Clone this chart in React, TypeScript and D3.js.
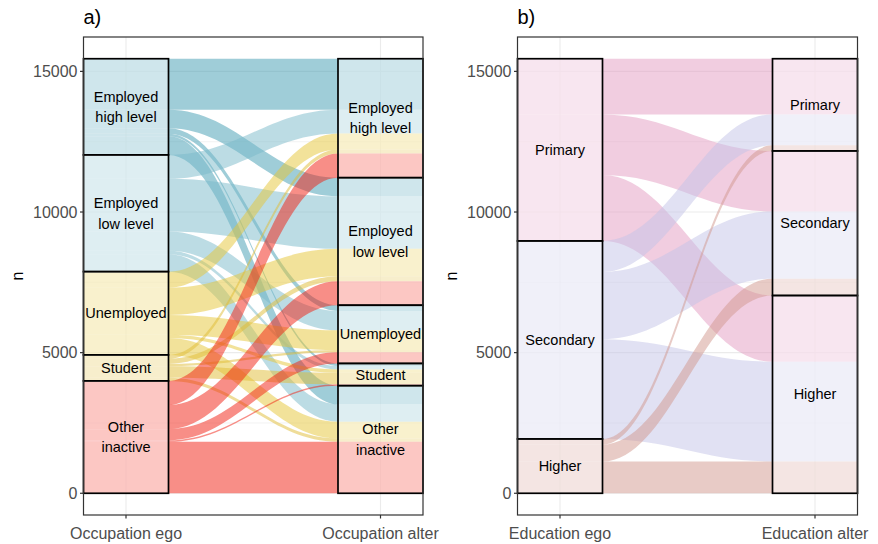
import React from "react";
import * as d3 from "d3";

// Occupation: ego (rows) -> alter (columns)
const occupationCategories = ["Employed high level", "Employed low level", "Unemployed", "Student", "Other inactive"];
const occupationLabels = [["Employed", "high level"], ["Employed", "low level"], ["Unemployed"], ["Student"], ["Other", "inactive"]];
const occupationFlows: number[][] = [
  [1810, 660, 200, 90, 660],
  [850, 1870, 690, 120, 620],
  [570, 970, 700, 120, 600],
  [140, 180, 80, 410, 115],
  [860, 855, 400, 50, 1830],
];
const occupationColors = ["#3f9bb1", "#79b9c9", "#e6c636", "#dfbb34", "#f11d0f"];

// Education: ego (rows) -> alter (columns)
const educationCategories = ["Primary", "Secondary", "Higher"];
const educationLabels = [["Primary"], ["Secondary"], ["Higher"]];
const educationFlows: number[][] = [
  [1980, 2150, 2350],
  [1100, 2390, 3550],
  [200, 600, 1130],
];
const educationColors = ["#e39bc1", "#c3c3e8", "#d1978d"];

const yTicks = [0, 5000, 10000, 15000];
const yMinor = [2500, 7500, 12500];

const FONT = "'Liberation Sans', Arial, Helvetica, sans-serif";
const TOP = 37;
const BOTTOM = 515;
const STRATUM_W = 85;
const CURVE_K = 0.4;

type PanelProps = {
  left: number;
  right: number;
  title: string;
  xLabels: [string, string];
  categories: string[];
  labels: string[][];
  flows: number[][];
  colors: string[];
};

function Panel({ left, right, title, xLabels, categories, labels, flows, colors }: PanelProps) {
  const n = categories.length;
  const rowTotals = flows.map((r) => d3.sum(r));
  const colTotals = categories.map((_, j) => d3.sum(flows, (r) => r[j]));
  const total = d3.sum(rowTotals);

  const y = d3.scaleLinear().domain([-0.05 * total, 1.05 * total]).range([BOTTOM, TOP]);
  const x = d3
    .scalePoint<string>()
    .domain(xLabels)
    .range([left + STRATUM_W / 2, right - STRATUM_W / 2]);

  const egoX = x(xLabels[0])!;
  const altX = x(xLabels[1])!;
  const egoL = egoX - STRATUM_W / 2;
  const egoR = egoX + STRATUM_W / 2;
  const altL = altX - STRATUM_W / 2;
  const altR = altX + STRATUM_W / 2;
  const dx = altL - egoR;

  // stratum tops (first category on top)
  const egoTop: number[] = [];
  const altTop: number[] = [];
  let acc = total;
  rowTotals.forEach((t) => { egoTop.push(acc); acc -= t; });
  acc = total;
  colTotals.forEach((t) => { altTop.push(acc); acc -= t; });

  // lode positions
  const egoLode: number[][] = flows.map((r, i) => {
    let a = egoTop[i];
    return r.map((v) => { const s = a; a -= v; return s; });
  });
  const altLode: number[][] = categories.map(() => []);
  for (let j = 0; j < n; j++) {
    let a = altTop[j];
    for (let i = 0; i < n; i++) { altLode[i][j] = a; a -= flows[i][j]; }
  }

  const alluvia: { d: string; color: string }[] = [];
  for (let i = 0; i < n; i++) {
    for (let j = 0; j < n; j++) {
      const v = flows[i][j];
      if (v <= 0) continue;
      const e0 = y(egoLode[i][j]);
      const e1 = y(egoLode[i][j] - v);
      const a0 = y(altLode[i][j]);
      const a1 = y(altLode[i][j] - v);
      const p = d3.path();
      p.moveTo(egoL, e0);
      p.lineTo(egoR, e0);
      p.bezierCurveTo(egoR + CURVE_K * dx, e0, altL - CURVE_K * dx, a0, altL, a0);
      p.lineTo(altR, a0);
      p.lineTo(altR, a1);
      p.lineTo(altL, a1);
      p.bezierCurveTo(altL - CURVE_K * dx, a1, egoR + CURVE_K * dx, e1, egoR, e1);
      p.lineTo(egoL, e1);
      p.closePath();
      alluvia.push({ d: p.toString(), color: colors[i] });
    }
  }

  const strata: { x0: number; y0: number; y1: number; lines: string[] }[] = [];
  for (let i = 0; i < n; i++) {
    strata.push({ x0: egoL, y0: y(egoTop[i]), y1: y(egoTop[i] - rowTotals[i]), lines: labels[i] });
    strata.push({ x0: altL, y0: y(altTop[i]), y1: y(altTop[i] - colTotals[i]), lines: labels[i] });
  }

  const lineH = 20.5;

  return (
    <g>
      <text x={left} y={24} fontSize={20} fontFamily={FONT} fill="#000">{title}</text>
      {/* grid */}
      {yMinor.map((t) => (
        <line key={"m" + t} x1={left} x2={right} y1={y(t)} y2={y(t)} stroke="#ebebeb" strokeWidth={0.6} />
      ))}
      {yTicks.map((t) => (
        <line key={"g" + t} x1={left} x2={right} y1={y(t)} y2={y(t)} stroke="#ebebeb" strokeWidth={1.1} />
      ))}
      {xLabels.map((l) => (
        <line key={"v" + l} x1={x(l)} x2={x(l)} y1={TOP} y2={BOTTOM} stroke="#ebebeb" strokeWidth={1.1} />
      ))}
      {/* alluvia */}
      {alluvia.map((a, k) => (
        <path key={k} d={a.d} fill={a.color} fillOpacity={0.5} stroke="none" />
      ))}
      {/* strata */}
      {strata.map((s, k) => (
        <g key={"s" + k}>
          <rect x={s.x0} y={s.y0} width={STRATUM_W} height={s.y1 - s.y0} fill="#ffffff" fillOpacity={0.5} stroke="#000" strokeWidth={1.7} />
          {s.lines.map((ln, li) => (
            <text
              key={li}
              x={s.x0 + STRATUM_W / 2}
              y={(s.y0 + s.y1) / 2 + (li - (s.lines.length - 1) / 2) * lineH}
              textAnchor="middle"
              dominantBaseline="central"
              fontSize={14.5}
              fontFamily={FONT}
              fill="#000"
            >
              {ln}
            </text>
          ))}
        </g>
      ))}
      {/* panel border */}
      <rect x={left} y={TOP} width={right - left} height={BOTTOM - TOP} fill="none" stroke="#333333" strokeWidth={1.2} />
      {/* y axis */}
      {yTicks.map((t) => (
        <g key={"yt" + t}>
          <line x1={left - 3.5} x2={left} y1={y(t)} y2={y(t)} stroke="#333333" strokeWidth={1.2} />
          <text x={left - 6} y={y(t)} textAnchor="end" dominantBaseline="central" fontSize={16} fontFamily={FONT} fill="#4d4d4d">
            {t}
          </text>
        </g>
      ))}
      <text
        transform={`translate(${left - 61},${(TOP + BOTTOM) / 2}) rotate(-90)`}
        textAnchor="middle"
        fontSize={16}
        fontFamily={FONT}
        fill="#000"
      >
        n
      </text>
      {/* x axis */}
      {xLabels.map((l) => (
        <g key={"xt" + l}>
          <line x1={x(l)} x2={x(l)} y1={BOTTOM} y2={BOTTOM + 3.5} stroke="#333333" strokeWidth={1.2} />
          <text x={x(l)} y={BOTTOM + 24} textAnchor="middle" fontSize={16} fontFamily={FONT} fill="#4d4d4d">
            {l}
          </text>
        </g>
      ))}
    </g>
  );
}

export default function App() {
  return (
    <svg width={878} height={544} style={{ position: "absolute", left: 0, top: 0, background: "#fff" }}>
      <rect width={878} height={544} fill="#fff" />
      <Panel
        left={83.5}
        right={423}
        title="a)"
        xLabels={["Occupation ego", "Occupation alter"]}
        categories={occupationCategories}
        labels={occupationLabels}
        flows={occupationFlows}
        colors={occupationColors}
      />
      <Panel
        left={517.5}
        right={857.5}
        title="b)"
        xLabels={["Education ego", "Education alter"]}
        categories={educationCategories}
        labels={educationLabels}
        flows={educationFlows}
        colors={educationColors}
      />
    </svg>
  );
}
